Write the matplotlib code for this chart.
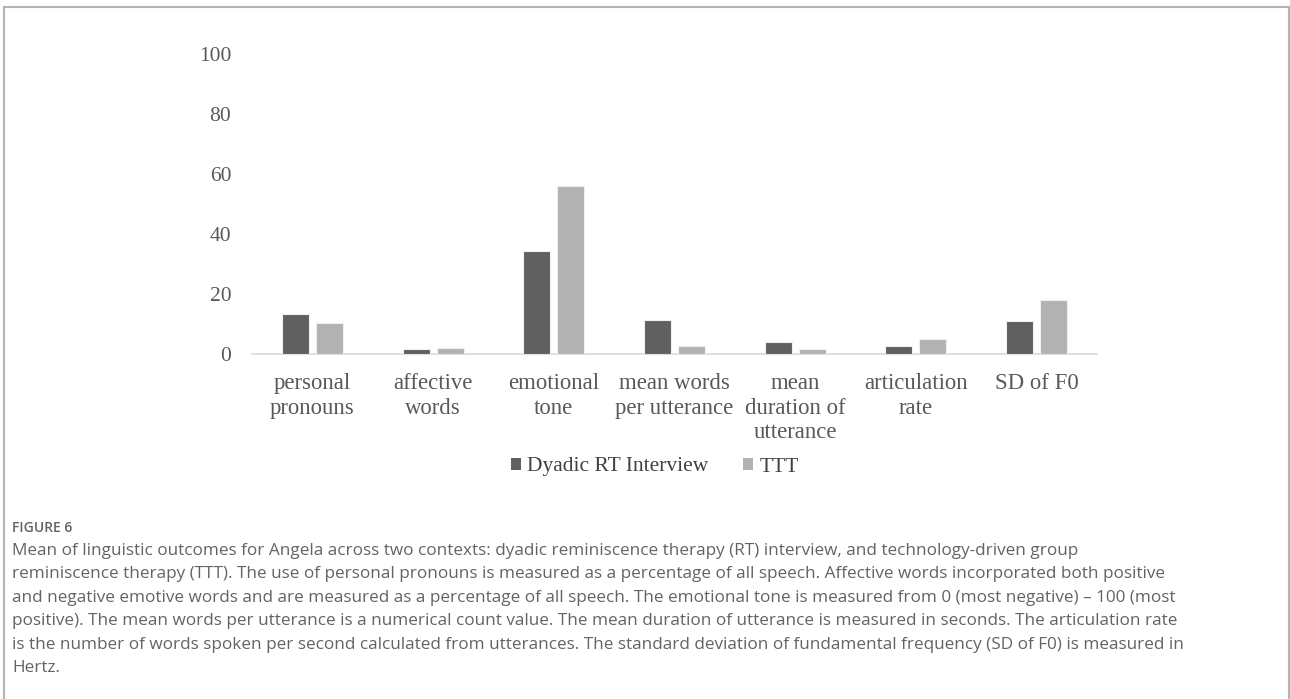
import matplotlib
matplotlib.use("Agg")
import matplotlib.pyplot as plt
from matplotlib.patches import Patch, Rectangle

categories = [
    "personal\npronouns",
    "affective\nwords",
    "emotional\ntone",
    "mean words\nper utterance",
    "mean\nduration of\nutterance",
    "articulation\nrate",
    "SD of F0",
]
dyadic_rt = [13.2, 1.8, 34.4, 11.3, 4.0, 2.8, 11.1]
ttt = [10.4, 2.1, 56.1, 2.8, 1.7, 5.0, 17.9]
series_names = ["Dyadic RT Interview", "TTT"]
y_ticks = [0, 20, 40, 60, 80, 100]

caption_title = "FIGURE 6"
caption_lines = [
    "Mean of linguistic outcomes for Angela across two contexts: dyadic reminiscence therapy (RT) interview, and technology-driven group",
    "reminiscence therapy (TTT). The use of personal pronouns is measured as a percentage of all speech. Affective words incorporated both positive",
    "and negative emotive words and are measured as a percentage of all speech. The emotional tone is measured from 0 (most negative) \u2013 100 (most",
    "positive). The mean words per utterance is a numerical count value. The mean duration of utterance is measured in seconds. The articulation rate",
    "is the number of words spoken per second calculated from utterances. The standard deviation of fundamental frequency (SD of F0) is measured in",
    "Hertz.",
]

W, H = 1290, 699
DPI = 100
fig = plt.figure(figsize=(W / DPI, H / DPI), dpi=DPI)
fig.patch.set_facecolor("white")

def fx(px):
    return px / W

def fy(py):
    return 1 - py / H

# outer panel frame
frame = Rectangle((fx(4), fy(720)), fx(1289) - fx(4), fy(7) - fy(720),
                  transform=fig.transFigure, fill=False,
                  edgecolor="#b4b4b4", linewidth=1.5, clip_on=False)
fig.add_artist(frame)

ax = fig.add_axes([fx(252), fy(354), fx(1097) - fx(252), fy(54) - fy(354)])
ax.set_facecolor("white")

serif = "Liberation Serif"
tick_color = "#595959"
dark = "#606060"
light = "#b2b2b2"

n = len(categories)
xs = list(range(n))
bw = 0.224
gap = 0.058
off = (bw + gap) / 2
ax.bar([x - off for x in xs], dyadic_rt, width=bw, color=dark,
       edgecolor="#efefef", linewidth=0.8, zorder=3)
ax.bar([x + off for x in xs], ttt, width=bw, color=light,
       edgecolor="#efefef", linewidth=0.8, zorder=3)

ax.set_xlim(-0.5, n - 0.5)
ax.set_ylim(0, 100)
ax.set_yticks(y_ticks)
ax.set_yticklabels([str(v) for v in y_ticks], fontfamily=serif,
                   fontsize=15.5, color=tick_color)
ax.set_xticks(xs)
ax.set_xticklabels(categories, fontfamily=serif, fontsize=16.4,
                   color=tick_color, linespacing=1.2, va="top")
ax.tick_params(axis="y", length=0, pad=15)
ax.tick_params(axis="x", length=0, pad=14)
for side in ["top", "right", "left"]:
    ax.spines[side].set_visible(False)
ax.spines["bottom"].set_color("#d9d9d9")
ax.spines["bottom"].set_linewidth(1.2)

handles = [Patch(facecolor=dark, edgecolor="none"),
           Patch(facecolor=light, edgecolor="none")]
fig.legend(handles, series_names, loc="center", bbox_to_anchor=(fx(655), fy(467)),
           ncol=2, frameon=False, prop={"family": serif, "size": 15.5},
           labelcolor="#404040", handlelength=0.45, handleheight=0.45,
           handletextpad=0.3, columnspacing=1.6)

cap_font = "Open Sans"
cap_color = "#636363"
fig.text(fx(12), fy(528), caption_title, fontfamily=cap_font, fontsize=10,
         fontweight="semibold", color=cap_color, va="center", ha="left")
for i, line in enumerate(caption_lines):
    fig.text(fx(12), fy(551 + 23.4 * i), line, fontfamily=cap_font,
             fontsize=12.3, color=cap_color, va="center", ha="left")

fig.savefig("out.png", dpi=DPI, facecolor="white")
